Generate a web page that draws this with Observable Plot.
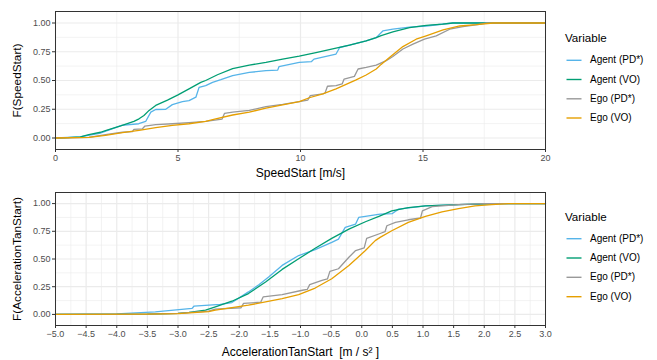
<!DOCTYPE html>
<html>
<head>
<meta charset="utf-8">
<script src="https://cdn.jsdelivr.net/npm/d3@7"></script>
<script src="https://cdn.jsdelivr.net/npm/@observablehq/plot@0.6"></script>
<style>
  body { margin: 0; background: white; font-family: "Liberation Sans", Arial, sans-serif; }
  #wrap { position: relative; width: 657px; height: 360px; background: white; overflow: hidden; }
  #wrap svg { display: block; }
  .leg { position: absolute; color: #000; white-space: nowrap; font-family: "Liberation Sans", Arial, sans-serif; }
  .legTitle { font-size: 11.6px; line-height: 14px; }
  .legItem { font-size: 10px; line-height: 12px; }
</style>
</head>
<body>
<div id="wrap"></div>
<script>
// ---- categories / legend ----
const seriesNames = ["Agent (PD*)", "Agent (VO)", "Ego (PD*)", "Ego (VO)"];
const seriesColors = ["#56B4E9", "#009E73", "#999999", "#E69F00"];
const legendTitle = "Variable";

// ---- panel 1: SpeedStart ----
const speedLabelX = "SpeedStart [m/s]";
const speedLabelY = "F(SpeedStart)";
const speedTicks = [0, 5, 10, 15, 20];
const speedMinor = [2.5, 7.5, 12.5, 17.5];

const speedAgentPD_x = [0, 1.0, 1.8, 2.7, 3.4, 3.68, 3.89, 4.09, 4.5, 4.77, 5.18, 5.45, 5.73, 5.86, 6.13, 6.41, 6.75, 7.23, 7.91, 8.59, 9.07, 9.12, 9.95, 10.45, 10.55, 11.45, 11.6, 12.0, 12.68, 13.09, 13.36, 13.77, 14.45, 15.13, 16.22, 20];
const speedAgentPD_y = [0, 0.01, 0.04, 0.11, 0.124, 0.144, 0.225, 0.248, 0.25, 0.29, 0.317, 0.325, 0.355, 0.44, 0.455, 0.484, 0.507, 0.542, 0.57, 0.585, 0.59, 0.62, 0.657, 0.665, 0.686, 0.73, 0.787, 0.807, 0.844, 0.873, 0.931, 0.946, 0.965, 0.974, 1.0, 1.0];

const speedAgentVO_x = [0, 0.5, 1.02, 1.36, 1.84, 2.04, 2.66, 3.2, 3.41, 3.61, 3.82, 4.09, 4.57, 5.0, 5.45, 5.93, 6.13, 6.61, 7.23, 7.91, 8.59, 9.27, 9.95, 10.63, 11.45, 12.0, 12.68, 13.09, 13.29, 13.77, 14.45, 15.13, 15.8, 16.22, 20];
const speedAgentVO_y = [0, 0.003, 0.01, 0.03, 0.05, 0.065, 0.105, 0.145, 0.167, 0.196, 0.24, 0.283, 0.33, 0.375, 0.427, 0.484, 0.5, 0.55, 0.603, 0.634, 0.657, 0.686, 0.712, 0.743, 0.781, 0.807, 0.844, 0.873, 0.89, 0.922, 0.959, 0.98, 0.99, 1.0, 1.0];

const speedEgoPD_x = [0, 1.36, 2.04, 2.73, 3.14, 3.2, 3.55, 3.65, 4.09, 4.77, 5.45, 6.13, 6.8, 6.9, 7.23, 7.91, 8.59, 9.27, 9.95, 10.3, 10.4, 10.91, 11.0, 11.1, 11.45, 11.7, 11.78, 12.2, 12.35, 12.68, 13.09, 13.5, 13.77, 14.18, 14.59, 15.06, 15.54, 16.09, 16.63, 17.31, 17.59, 20];
const speedEgoPD_y = [0, 0.006, 0.03, 0.05, 0.055, 0.075, 0.08, 0.104, 0.116, 0.124, 0.133, 0.144, 0.165, 0.215, 0.225, 0.24, 0.272, 0.292, 0.317, 0.33, 0.369, 0.384, 0.39, 0.45, 0.455, 0.47, 0.513, 0.536, 0.6, 0.614, 0.634, 0.672, 0.709, 0.774, 0.816, 0.859, 0.888, 0.946, 0.968, 0.988, 1.0, 1.0];

const speedEgoVO_x = [0, 1.36, 2.04, 2.73, 3.41, 4.09, 4.77, 5.45, 6.13, 6.54, 7.23, 7.91, 8.59, 9.27, 9.95, 10.36, 10.91, 11.45, 12.27, 12.68, 13.09, 13.29, 13.63, 14.18, 14.72, 15.13, 15.82, 16.5, 17.18, 17.86, 20];
const speedEgoVO_y = [0, 0.006, 0.023, 0.047, 0.067, 0.09, 0.11, 0.124, 0.144, 0.167, 0.2, 0.225, 0.26, 0.289, 0.317, 0.35, 0.384, 0.427, 0.505, 0.548, 0.6, 0.64, 0.70, 0.795, 0.859, 0.888, 0.94, 0.974, 0.985, 1.0, 1.0];

// ---- panel 2: AccelerationTanStart ----
const accLabelX = "AccelerationTanStart\u00a0 [m / s\u00b2\u00a0]";
const accLabelY = "F(AccelerationTanStart)";
const accTicks = [-5, -4.5, -4, -3.5, -3, -2.5, -2, -1.5, -1, -0.5, 0, 0.5, 1, 1.5, 2, 2.5, 3];
const accMinor = [-4.75, -4.25, -3.75, -3.25, -2.75, -2.25, -1.75, -1.25, -0.75, -0.25, 0.25, 0.75, 1.25, 1.75, 2.25, 2.75];

const accAgentPD_x = [-5, -4, -3.37, -2.77, -2.74, -2.31, -2.12, -1.85, -1.68, -1.52, -1.30, -1.03, -0.76, -0.49, -0.38, -0.27, -0.1, -0.05, 0.30, 0.5, 0.6, 1.04, 1.58, 2.12, 3];
const accAgentPD_y = [0, 0.005, 0.023, 0.054, 0.074, 0.09, 0.107, 0.203, 0.268, 0.337, 0.442, 0.531, 0.585, 0.65, 0.68, 0.785, 0.815, 0.875, 0.905, 0.91, 0.95, 0.979, 0.99, 1.0, 1.0];

const accAgentVO_x = [-5, -3.5, -3.0, -2.82, -2.55, -2.39, -2.12, -1.85, -1.57, -1.30, -1.03, -0.76, -0.49, -0.21, 0.06, 0.30, 0.49, 0.76, 1.04, 1.58, 2.2, 3];
const accAgentVO_y = [0, 0.002, 0.01, 0.018, 0.038, 0.068, 0.119, 0.188, 0.292, 0.406, 0.502, 0.597, 0.686, 0.77, 0.836, 0.89, 0.935, 0.964, 0.979, 0.99, 1.0, 1.0];

const accEgoPD_x = [-5, -3.5, -3.0, -2.5, -2.39, -1.97, -1.93, -1.65, -1.61, -1.30, -0.97, -0.89, -0.85, -0.65, -0.56, -0.52, -0.38, -0.21, -0.1, 0.04, 0.08, 0.30, 0.38, 0.41, 0.55, 0.76, 0.96, 0.99, 1.15, 1.58, 2.0, 3];
const accEgoPD_y = [0, 0.002, 0.01, 0.03, 0.047, 0.06, 0.099, 0.11, 0.158, 0.179, 0.218, 0.225, 0.269, 0.307, 0.32, 0.388, 0.412, 0.516, 0.576, 0.6, 0.686, 0.73, 0.746, 0.80, 0.83, 0.854, 0.87, 0.935, 0.973, 0.99, 1.0, 1.0];

const accEgoVO_x = [-5, -3.5, -3.0, -2.5, -2.39, -1.85, -1.30, -1.03, -0.76, -0.49, -0.21, 0.06, 0.22, 0.30, 0.49, 0.76, 1.04, 1.31, 1.58, 1.85, 2.12, 2.40, 3];
const accEgoVO_y = [0, 0.002, 0.008, 0.025, 0.038, 0.083, 0.143, 0.179, 0.238, 0.322, 0.442, 0.576, 0.666, 0.695, 0.755, 0.83, 0.884, 0.926, 0.955, 0.979, 0.99, 1.0, 1.0];

// ---- shared y ticks ----
const yTicks = [0, 0.25, 0.5, 0.75, 1];
const yMinor = [0.125, 0.375, 0.625, 0.875];

function toRows(pairs) {
  const rows = [];
  pairs.forEach(([xs, ys], k) => xs.forEach((x, i) => rows.push({x, y: ys[i], v: seriesNames[k]})));
  return rows;
}

function panel(opts) {
  const rows = toRows(opts.pairs);
  return Plot.plot({
    width: 550, height: 180,
    marginLeft: 55, marginRight: 5, marginTop: opts.mt, marginBottom: opts.mb,
    style: {fontFamily: "'Liberation Sans', Arial, sans-serif", fontSize: "9px", background: "white", color: "#4D4D4D", overflow: "visible"},
    x: {domain: opts.xDomain},
    y: {domain: [-0.1, 1.1]},
    color: {domain: seriesNames, range: seriesColors},
    marks: [
      Plot.ruleX(opts.xMinor, {stroke: "#EBEBEB", strokeWidth: 0.6}),
      Plot.ruleY(yMinor, {stroke: "#EBEBEB", strokeWidth: 0.6}),
      Plot.ruleX(opts.xTicks, {stroke: "#EBEBEB", strokeWidth: 1.2}),
      Plot.ruleY(yTicks, {stroke: "#EBEBEB", strokeWidth: 1.2}),
      Plot.line(rows, {x: "x", y: "y", z: "v", stroke: "v", strokeWidth: 1.3}),
      Plot.frame({stroke: "#333333", strokeWidth: 1}),
      Plot.axisX(opts.xTicks, {tickSize: 3, tickPadding: 2, tickFormat: opts.xFmt, label: null, stroke: "#333333", fill: "#4D4D4D"}),
      Plot.axisY(yTicks, {tickSize: 3, tickPadding: 2, tickFormat: d3.format(".2f"), label: null, stroke: "#333333", fill: "#4D4D4D"}),
      Plot.text([opts.xLabel], {frameAnchor: "bottom", lineAnchor: "middle", dy: opts.xLabelDy, text: d => d, fontSize: 12, fill: "black"}),
      Plot.text([opts.yLabel], {frameAnchor: "left", textAnchor: "middle", lineAnchor: "middle", dx: -38.5, rotate: -90, text: d => d, fontSize: 11.8, fill: "black"})
    ]
  });
}

const wrap = document.getElementById("wrap");

const p1 = panel({
  pairs: [[speedAgentPD_x, speedAgentPD_y], [speedAgentVO_x, speedAgentVO_y], [speedEgoPD_x, speedEgoPD_y], [speedEgoVO_x, speedEgoVO_y]],
  xDomain: [0, 20], xTicks: speedTicks, xMinor: speedMinor, xFmt: d3.format("d"),
  xLabel: speedLabelX, yLabel: speedLabelY, mt: 11, mb: 31, xLabelDy: 23.5
});
const p2 = panel({
  pairs: [[accAgentPD_x, accAgentPD_y], [accAgentVO_x, accAgentVO_y], [accEgoPD_x, accEgoPD_y], [accEgoVO_x, accEgoVO_y]],
  xDomain: [-5, 3], xTicks: accTicks, xMinor: accMinor, xFmt: d3.format(".1f"),
  xLabel: accLabelX, yLabel: accLabelY, mt: 12, mb: 35, xLabelDy: 26.5
});
p1.style.position = "absolute"; p1.style.left = "0px"; p1.style.top = "0px";
p2.style.position = "absolute"; p2.style.left = "0px"; p2.style.top = "180px";
wrap.appendChild(p1);
wrap.appendChild(p2);

// legend keys drawn as SVG lines, labels as HTML text
const keySvg = d3.select(wrap).append("svg")
  .attr("width", 657).attr("height", 360)
  .style("position", "absolute").style("left", "0px").style("top", "0px")
  .style("pointer-events", "none");

function legend(titleCenter, itemCenters) {
  const t = document.createElement("div");
  t.className = "leg legTitle";
  t.textContent = legendTitle;
  t.style.left = "565px";
  t.style.top = (titleCenter - 7) + "px";
  wrap.appendChild(t);
  seriesNames.forEach((name, i) => {
    keySvg.append("line")
      .attr("x1", 566.5).attr("x2", 581.5)
      .attr("y1", itemCenters[i]).attr("y2", itemCenters[i])
      .attr("stroke", seriesColors[i]).attr("stroke-width", 1.4);
    const lab = document.createElement("div");
    lab.className = "leg legItem";
    lab.textContent = name;
    lab.style.left = "590px";
    lab.style.top = (itemCenters[i] - 6) + "px";
    wrap.appendChild(lab);
  });
}
legend(38.3, [60.3, 79.5, 98.8, 118]);
legend(216.7, [238.7, 258, 277.3, 296.7]);
</script>
</body>
</html>
